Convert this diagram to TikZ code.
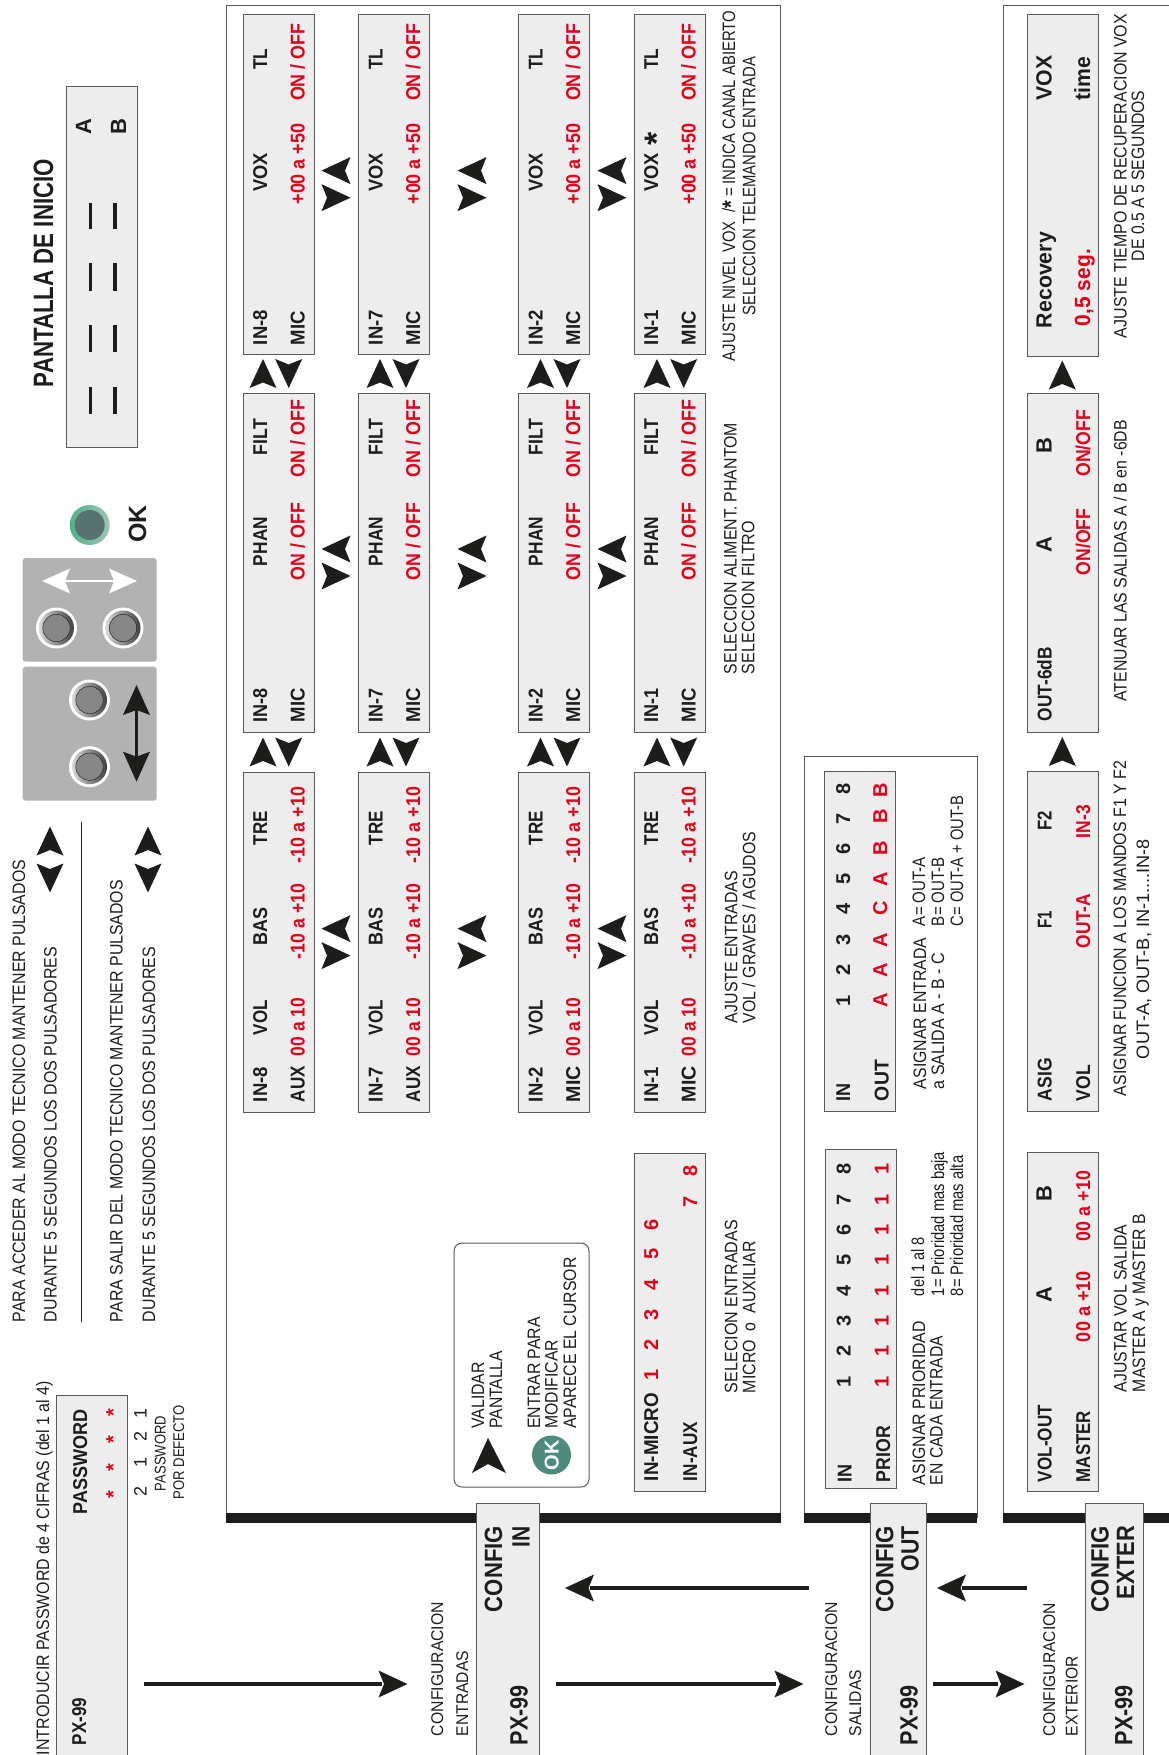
\documentclass[tikz,border=0pt]{standalone}
\usepackage{fontspec}
\usepackage{graphicx}
\setmainfont{Liberation Sans}
\definecolor{pxred}{HTML}{E2001A}
\definecolor{pxblk}{HTML}{1D1D1B}
\definecolor{pxfill}{HTML}{EDEDED}
\definecolor{pxedge}{HTML}{5A5A5A}
\definecolor{pxpanel}{HTML}{B2B2B2}
\definecolor{HTMLled}{HTML}{56736F}
\definecolor{HTMLok}{HTML}{4D8B7C}
\definecolor{ledl}{HTML}{4DB384}
\definecolor{ledr}{HTML}{A0C4B8}
\newcounter{tn}
\newsavebox\tbox
\newcommand\fr{\normalfont\fontsize{18}{20}\selectfont\color{pxblk}}
\newcommand\fb{\normalfont\bfseries\fontsize{20}{22}\selectfont\color{pxblk}}
\newcommand\frd{\normalfont\bfseries\fontsize{20}{22}\selectfont\color{pxred}}
\newcommand\fnum{\normalfont\bfseries\fontsize{20}{22}\selectfont\color{pxblk}}
\newcommand\frnum{\normalfont\bfseries\fontsize{20}{22}\selectfont\color{pxred}}
\newcommand\fl{\normalfont\bfseries\fontsize{22}{24}\selectfont\color{pxblk}}
\newcommand\flr{\normalfont\bfseries\fontsize{22}{24}\selectfont\color{pxred}}
\newcommand\ft{\normalfont\bfseries\fontsize{25}{27}\selectfont\color{pxblk}}
\newcommand\fh{\normalfont\bfseries\fontsize{28}{30}\selectfont\color{pxblk}}
\newcommand\fc{\normalfont\fontsize{17}{20}\selectfont\color{pxblk}}
% text fitted between two y positions, reading upwards
\newcommand\T[5]{\sbox\tbox{\pgfinterruptpicture#4#5\endpgfinterruptpicture}\edef\tw{\the\wd\tbox}\pgfmathsetmacro\tr{((#2)-(#3))/\tw}\stepcounter{tn}\node[txt,anchor=base west,name=t\arabic{tn}] at ({#1},{#2}) {\scalebox{\tr}[1]{\usebox\tbox}};}
% text centred on a y position
\newcommand\C[4]{\stepcounter{tn}\node[txt,anchor=base,name=t\arabic{tn}] at ({#1},{#2}) {#3#4};}
\newcommand\LCD[5]{\node[lcd,name=#1,minimum width={((#4)-(#2))*1pt},minimum height={((#5)-(#3))*1pt}] at ({((#2)+(#4))/2},{((#3)+(#5))/2}) {};}
\newcommand\ah[3]{\fill[pxblk,shift={({#1},{#2})},rotate=#3] (14.5,0) -- (-14.5,13.5) -- (-9,0) -- (-14.5,-13.5) -- cycle;}
\newcommand\awh[3]{\fill[white,shift={({#1},{#2})},rotate=#3] (14,0) -- (-14,12.5) -- (-9,0) -- (-14,-12.5) -- cycle;}
\newcommand\btn[2]{\fill[white] (#1,#2) circle[radius=20.5];\shade[left color=black!15,right color=black!75] (#1,#2) circle[radius=17.5];\filldraw[fill=black!47,draw=black!85,line width=.5] (#1,#2) circle[radius=13.7];}
\tikzset{
 txt/.style={rotate=90,inner sep=0,outer sep=0},
 lcd/.style={draw=pxedge,fill=pxfill,line width=1,inner sep=0,outer sep=0,rectangle},
 frameline/.style={draw=pxedge,line width=1},
 flowline/.style={draw=pxblk,line width=3.6},
}
\begin{document}
\begin{tikzpicture}[x=1pt,y=-1pt]
\clip (0,0) rectangle (1169,1755);
\fill[white] (0,0) rectangle (1169,1755);
% --- panels
\draw[frameline] (226,1518) -- (226,6) -- (780.5,6) -- (780.5,1518);
\fill[pxblk] (226,1513) rectangle (780.5,1523);
\draw[frameline] (804,1518) -- (804,756) -- (977,756) -- (977,1518);
\fill[pxblk] (804,1513) rectangle (977,1523);
\draw[frameline] (1003,1518) -- (1003,6) -- (1170,6);
\fill[pxblk] (1003,1513) rectangle (1170,1523);
% --- tabs
\LCD{tabin}{476}{1503}{539}{1765}
\LCD{tabout}{870}{1503}{926.5}{1765}
\LCD{tabext}{1085}{1503}{1143.5}{1765}
\T{502}{1612}{1526}{\ft}{CONFIG}
\T{529.5}{1547}{1526}{\ft}{IN}
\T{527.5}{1745}{1685}{\ft}{PX-99}
\T{893.3}{1612}{1526}{\ft}{CONFIG}
\T{918.5}{1571}{1526}{\ft}{OUT}
\T{917.5}{1745}{1685}{\ft}{PX-99}
\T{1108.7}{1612}{1526}{\ft}{CONFIG}
\T{1134}{1599}{1526}{\ft}{EXTER}
\T{1132.4}{1745}{1685}{\ft}{PX-99}
\T{443}{1736}{1602}{\fc}{CONFIGURACION}
\T{468}{1736}{1651}{\fc}{ENTRADAS}
\T{837}{1736}{1602}{\fc}{CONFIGURACION}
\T{861}{1736}{1670}{\fc}{SALIDAS}
\T{1055}{1736}{1603}{\fc}{CONFIGURACION}
\T{1077.5}{1736}{1656}{\fc}{EXTERIOR}
% --- flow arrows
\coordinate (f1a) at (144,1684);\coordinate (f1b) at (382,1684);
\coordinate (f2a) at (809,1588);\coordinate (f2b) at (590,1588);
\coordinate (f3a) at (556,1684);\coordinate (f3b) at (776,1684);
\coordinate (f4a) at (1027,1588);\coordinate (f4b) at (962,1588);
\coordinate (f5a) at (932.6,1684);\coordinate (f5b) at (998,1684);
\draw[flowline] (f1a) -- (f1b); \ah{393}{1684}{0}
\draw[flowline] (f2a) -- (f2b); \ah{579.5}{1588}{180}
\draw[flowline] (f3a) -- (f3b); \ah{789}{1684}{0}
\draw[flowline] (f4a) -- (f4b); \ah{951.5}{1588}{180}
\draw[flowline] (f5a) -- (f5b); \ah{1010}{1684}{0}
% --- left column
\LCD{inicio}{66}{87}{137}{447}
\T{53}{387}{159}{\fh}{PANTALLA DE INICIO}
\C{91}{127}{\fl}{A}
\C{126}{127}{\fl}{B}
\foreach \ya/\yb in {203/229,263/291,325/352,387/414}{
 \draw[pxblk,line width=3.3] (90.5,\ya) -- (90.5,\yb);
 \draw[pxblk,line width=3.3] (115,\ya) -- (115,\yb);
}
\shade[left color=ledl,right color=ledr] (89.7,525) circle[radius=20];
\fill[HTMLled] (89.7,525) circle[radius=15];
\C{146}{524}{\normalfont\bfseries\fontsize{25}{27}\selectfont\color{pxblk}}{OK}
\fill[pxpanel,rounded corners=3] (22.7,558) rectangle (156.7,661.7);
\fill[pxpanel,rounded corners=3] (22.7,666.7) rectangle (156.7,800.7);
\btn{56.5}{628}\btn{123}{628}\btn{89.5}{700}\btn{89.5}{766.7}
\coordinate (wa) at (55,581);\coordinate (wb) at (125,581);
\draw[white,line width=2.6] (wa) -- (wb);
\awh{56}{581}{180}\awh{123}{581}{0}
\coordinate (ba) at (136.5,700);\coordinate (bb) at (136.5,768);
\draw[pxblk,line width=2.6] (ba) -- (bb);
\fill[pxblk,shift={(136.5,700)},rotate=90] (15,0) -- (-15,13.5) -- (-10,0) -- (-15,-13.5) -- cycle;
\fill[pxblk,shift={(136.5,766.7)},rotate=270] (15,0) -- (-15,13.5) -- (-10,0) -- (-15,-13.5) -- cycle;
\ah{50}{841}{90}\ah{50}{878}{270}
\ah{148}{841}{90}\ah{148}{878}{270}
\coordinate (sa) at (81.5,822);\coordinate (sb) at (81.5,1322);
\draw[pxblk,line width=.9] (sa) -- (sb);
\T{25}{1322}{860}{\fr}{PARA ACCEDER AL MODO TECNICO MANTENER PULSADOS}
\T{56.7}{1322}{947}{\fr}{DURANTE 5 SEGUNDOS LOS DOS PULSADORES}
\T{122.7}{1322}{880}{\fr}{PARA SALIR DEL MODO TECNICO MANTENER PULSADOS}
\T{155}{1322}{947}{\fr}{DURANTE 5 SEGUNDOS LOS DOS PULSADORES}
\T{49}{1755}{1381}{\fr}{INTRODUCIR PASSWORD de 4 CIFRAS (del 1 al 4)}
\LCD{passw}{56.7}{1395.6}{127.7}{1765}
\T{86}{1745}{1697.6}{\fb}{PX-99}
\T{87}{1514}{1409}{\fb}{PASSWORD}
\foreach \y in {1413,1440,1468,1495}{\C{120}{\y}{\frd}{*}}
\foreach \y/\d in {1413/1,1436/2,1462/1,1491/2}{\C{146.7}{\y}{\fr}{\d}}
\T{165.7}{1491}{1416}{\normalfont\fontsize{15.5}{17}\selectfont\color{pxblk}}{PASSWORD}
\T{184}{1499.5}{1405}{\normalfont\fontsize{15.5}{17}\selectfont\color{pxblk}}{POR DEFECTO}
% --- input columns
\foreach \x/\n/\m in {243/8/AUX,358.5/7/AUX,518.5/2/MIC,634/1/MIC}{
 \LCD{a\n}{\x}{14.5}{\x+71}{354}
 \LCD{b\n}{\x}{393}{\x+71}{732}
 \LCD{c\n}{\x}{772}{\x+71}{1112}
 % top row
 \T{\x+24}{345}{310}{\fb}{IN-\n}
 \T{\x+61.5}{345}{311}{\fb}{MIC}
 \T{\x+24}{191.5}{153}{\fb}{VOX}
 \T{\x+61.5}{204.5}{123.5}{\frd}{+00 a +50}
 \T{\x+24}{70}{49}{\fb}{TL}
 \T{\x+61.5}{101}{23.5}{\frd}{ON / OFF}
 % middle row
 \T{\x+24}{722}{688}{\fb}{IN-\n}
 \T{\x+61.5}{722}{688}{\fb}{MIC}
 \T{\x+24}{566}{517}{\fb}{PHAN}
 \T{\x+61.5}{580}{503}{\frd}{ON / OFF}
 \T{\x+24}{455}{419}{\fb}{FILT}
 \T{\x+61.5}{477.5}{400}{\frd}{ON / OFF}
 % third row
 \T{\x+24}{1102}{1067}{\fb}{IN-\n}
 \T{\x+61.5}{1102}{1066}{\fb}{\m}
 \T{\x+24}{1035}{1000}{\fb}{VOL}
 \T{\x+61.5}{1056}{998}{\frd}{00 a 10}
 \T{\x+24}{945}{907}{\fb}{BAS}
 \T{\x+61.5}{959}{884}{\frd}{-10 a +10}
 \T{\x+24}{845}{811}{\fb}{TRE}
 \T{\x+61.5}{863}{787}{\frd}{-10 a +10}
}
\C{668}{138.5}{\normalfont\bfseries\fontsize{34}{34}\selectfont\color{pxblk}}{*}
% vertical arrow pairs
\foreach \u/\d in {263/288.7,380/406,540.5/567,657/683.7}{
 \ah{\u}{373.5}{90}\ah{\d}{373.5}{270}
 \ah{\u}{752}{90}\ah{\d}{752}{270}
}
% horizontal arrow pairs
\foreach \xx in {336,472,612}{
 \ah{\xx}{170.6}{180}\ah{\xx}{197.7}{0}
 \ah{\xx}{549}{180}\ah{\xx}{576}{0}
 \ah{\xx}{928.6}{180}\ah{\xx}{955.6}{0}
}
% captions of input columns
\T{735}{361}{11}{\fr}{AJUSTE NIVEL VOX\ \ /\raisebox{-4pt}{\bfseries\fontsize{24}{24}\selectfont *} = INDICA CANAL ABIERTO}
\T{755.3}{315}{57}{\fr}{SELECCION TELEMANDO ENTRADA}
\T{736.5}{674}{423}{\fr}{SELECCION ALIMENT. PHANTOM}
\T{754.3}{674}{521}{\fr}{SELECCION FILTRO}
\T{737.4}{1023}{871}{\fr}{AJUSTE ENTRADAS}
\T{755.3}{1023}{832}{\fr}{VOL / GRAVES / AGUDOS}
\T{737.4}{1393}{1220}{\fr}{SELECION ENTRADAS}
\T{755.3}{1393}{1241}{\fr}{MICRO\ \ o\ \ AUXILIAR}
% selection box
\LCD{insel}{634}{1153}{705.5}{1491}
\T{658}{1481}{1393}{\fb}{IN-MICRO}
\T{697}{1481}{1422}{\fb}{IN-AUX}
\foreach \y/\d in {1375/1,1345/2,1315/3,1285/4,1254/5,1224.5/6}{\C{658}{\y}{\frnum}{\d}}
\C{697}{1201.5}{\frnum}{7}
\C{697}{1171}{\frnum}{8}
% OK callout
\node[draw=pxedge,line width=1,rounded corners=8,inner sep=0,outer sep=0,minimum width=135pt,minimum height=244pt,name=callout] at (521.5,1365) {};
\T{484}{1428.6}{1362}{\fr}{VALIDAR}
\T{502}{1428.6}{1351}{\fr}{PANTALLA}
\T{540}{1428.6}{1317}{\fr}{ENTRAR PARA}
\T{557.6}{1428.6}{1340}{\fr}{MODIFICAR}
\T{576}{1428.6}{1257.5}{\fr}{APARECE EL CURSOR}
\fill[pxblk] (488,1438) -- (506,1473) -- (488,1464) -- (472,1473) -- cycle;
\fill[HTMLok] (551.5,1455) circle[radius=19.5];
\C{558.5}{1455}{\normalfont\bfseries\fontsize{20}{22}\selectfont\color{white}}{OK}
% --- output panel
\LCD{outb}{824}{771}{895}{1111}
\T{850}{1101}{1083}{\fb}{IN}
\T{888.7}{1101}{1060}{\fb}{OUT}
\foreach \y/\d in {789/8,819/7,848.5/6,879/5,909/4,940/3,970/2,1001/1}{\C{850}{\y}{\fnum}{\d}}
\foreach \y/\d in {790/B,816/B,848/B,879/A,908/C,940/A,970/A,1000/A}{\C{887}{\y}{\frnum}{\d}}
\LCD{prior}{825}{1149}{896}{1488}
\T{851.7}{1482}{1464}{\fb}{IN}
\T{890}{1482}{1426}{\fb}{PRIOR}
\foreach \y/\d in {1169/8,1200/7,1230/6,1260/5,1291/4,1320.5/3,1351/2,1381.6/1}{\C{850.7}{\y}{\fnum}{\d}\C{888.7}{\y}{\frnum}{1}}
\T{926}{1089}{938}{\fr}{ASIGNAR ENTRADA}
\T{944}{1089}{953}{\fr}{a SALIDA A - B - C}
\T{925}{926}{857}{\fr}{A= OUT-A}
\T{944}{926}{857}{\fr}{B= OUT-B}
\T{963}{926}{796}{\fr}{C= OUT-A + OUT-B}
\T{925}{1485}{1321}{\fr}{ASIGNAR PRIORIDAD}
\T{942.7}{1485}{1336}{\fr}{EN CADA ENTRADA}
\T{924}{1296}{1237}{\fr}{del 1 al 8}
\T{944}{1296}{1152}{\fr}{1= Prioridad mas baja}
\T{963}{1296}{1155.6}{\fr}{8= Prioridad mas alta}
% --- exterior panel
\LCD{recov}{1027}{15}{1098}{356}
\LCD{six}{1027}{393}{1098}{732}
\LCD{asig}{1027}{771}{1098}{1111}
\LCD{volo}{1027}{1152}{1098}{1491}
\T{1051.7}{328}{232}{\fl}{Recovery}
\T{1090}{326}{249}{\flr}{0,5 seg.}
\T{1051.7}{100.5}{55.7}{\fl}{VOX}
\T{1090}{100.5}{57}{\fl}{time}
\T{1051.7}{721}{647}{\fb}{OUT-6dB}
\C{1051.7}{545}{\fl}{A}
\C{1051.7}{446}{\fl}{B}
\T{1090}{575}{508.5}{\frd}{ON/OFF}
\T{1090}{476.6}{410}{\frd}{ON/OFF}
\T{1051.7}{1101}{1058}{\fb}{ASIG}
\T{1090}{1101}{1065}{\fb}{VOL}
\T{1051.7}{928.6}{911}{\fb}{F1}
\T{1090}{948}{894}{\frd}{OUT-A}
\T{1051.7}{830.6}{811}{\fb}{F2}
\T{1090}{838}{805}{\frd}{IN-3}
\T{1051.7}{1482}{1405}{\fb}{VOL-OUT}
\T{1090}{1482}{1411}{\fb}{MASTER}
\C{1051.7}{1295}{\fl}{A}
\C{1051.7}{1194}{\fl}{B}
\T{1090}{1342}{1271}{\frd}{00 a +10}
\T{1090}{1241}{1171}{\frd}{00 a +10}
\ah{1062.3}{375}{90}
\ah{1062.3}{751.5}{90}
\T{1126.7}{338}{14}{\fr}{AJUSTE TIEMPO DE RECUPERACION VOX}
\T{1144}{261}{90.5}{\fr}{DE 0.5 A 5 SEGUNDOS}
\T{1126.7}{701.5}{420}{\fr}{ATENUAR LAS SALIDAS A / B en -6DB}
\T{1126}{1096}{761}{\fr}{ASIGNAR FUNCION A LOS MANDOS F1 Y F2}
\T{1149}{1059}{839}{\fr}{OUT-A, OUT-B, IN-1....IN-8}
\T{1126.7}{1392}{1224.5}{\fr}{AJUSTAR VOL SALIDA}
\T{1145}{1392}{1214}{\fr}{MASTER A y MASTER B}
\end{tikzpicture}
\end{document}
